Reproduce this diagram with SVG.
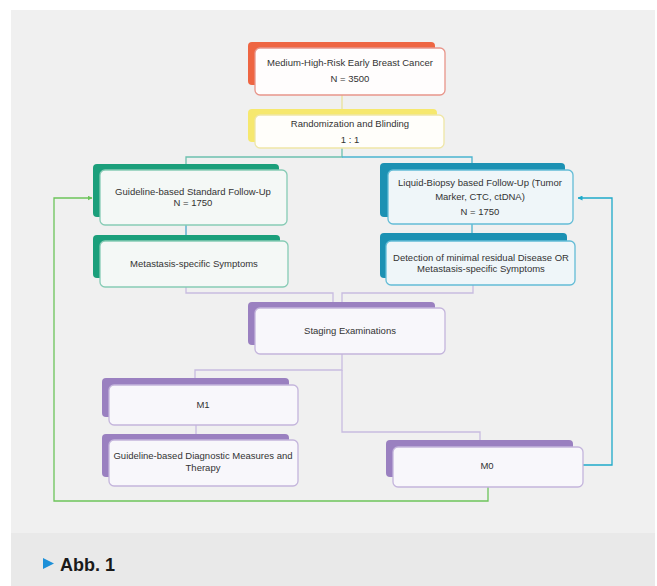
<svg xmlns="http://www.w3.org/2000/svg" width="657" height="586" viewBox="0 0 657 586">
<defs>
<style>
.t{font-family:"Liberation Sans",Arial,sans-serif;font-size:9.5px;fill:#333;text-anchor:middle}
.front{stroke-width:1.3}
.c{fill:none;stroke-width:1.3}
</style>
<marker id="ag" viewBox="0 0 10 10" refX="9" refY="5" markerWidth="5" markerHeight="5" orient="auto" markerUnits="userSpaceOnUse"><path d="M0,0 L10,5 L0,10 z" fill="#6cc45a"/></marker>
<marker id="ab" viewBox="0 0 10 10" refX="9" refY="5" markerWidth="5" markerHeight="5" orient="auto" markerUnits="userSpaceOnUse"><path d="M0,0 L10,5 L0,10 z" fill="#1ea9c9"/></marker>
</defs>
<rect width="657" height="586" fill="#ffffff"/>
<rect x="11" y="10" width="644" height="523" fill="#f0f0f0"/>
<rect x="11" y="533" width="644" height="53" fill="#e9e9e9"/>

<g id="connectors">
<path class="c" stroke="#e9e29a" d="M342,95 V115"/>
<path class="c" stroke="#6cc0ae" d="M342,148 V157 H186 V164"/>
<path class="c" stroke="#4ab4d0" d="M342,157 H472 V163"/>
<path class="c" stroke="#4aa8cc" d="M186,225 V235"/>
<path class="c" stroke="#4ab4d0" d="M472,224 V233"/>
<path class="c" stroke="#c8bce0" d="M186,287 V293 H333 V302"/>
<path class="c" stroke="#c8bce0" d="M473,285 V293 H342 V302"/>
<path class="c" stroke="#c8bce0" d="M342,354 V370 H195 V378"/>
<path class="c" stroke="#c8bce0" d="M342,370 V432 H480 V440"/>
<path class="c" stroke="#c8bce0" d="M196,425 V434"/>
<path class="c" stroke="#6cc45a" stroke-width="1.6" marker-end="url(#ag)" d="M488,487 V501 H54 V198 H92"/>
<path class="c" stroke="#1ea9c9" stroke-width="1.6" marker-end="url(#ab)" d="M583,465 H612 V198 H578"/>
</g>

<g id="node-cancer">
<rect x="248" y="42" width="187" height="43" rx="4" fill="#ee6542"/>
<rect class="front" x="255" y="48" width="190" height="47" rx="5" fill="#fffdfd" stroke="#e8958a"/>
<text class="t" x="350" y="66">Medium-High-Risk Early Breast Cancer</text>
<text class="t" x="350" y="82">N = 3500</text>
</g>

<g id="node-random">
<rect x="248" y="109" width="189" height="33" rx="4" fill="#f6e86e"/>
<rect class="front" x="255" y="115" width="189" height="33" rx="5" fill="#fffefa" stroke="#efe6a6"/>
<text class="t" x="350" y="127">Randomization and Blinding</text>
<text class="t" x="350" y="143">1 : 1</text>
</g>

<g id="node-standard">
<rect x="93" y="164" width="186" height="53" rx="4" fill="#1b9f7b"/>
<rect class="front" x="100" y="170" width="187" height="55" rx="5" fill="#f4f8f6" stroke="#86cbb5"/>
<text class="t" x="193" y="195">Guideline-based Standard Follow-Up</text>
<text class="t" x="193" y="206">N = 1750</text>
</g>

<g id="node-symptoms">
<rect x="93" y="235" width="187" height="43" rx="4" fill="#1b9f7b"/>
<rect class="front" x="100" y="241" width="188" height="46" rx="5" fill="#f4f8f6" stroke="#86cbb5"/>
<text class="t" x="194" y="267">Metastasis-specific Symptoms</text>
</g>

<g id="node-liquid">
<rect x="380" y="163" width="185" height="54" rx="4" fill="#1c91b3"/>
<rect class="front" x="388" y="170" width="185" height="54" rx="5" fill="#eff6f9" stroke="#63bcd6"/>
<text class="t" x="480" y="186">Liquid-Biopsy based Follow-Up (Tumor</text>
<text class="t" x="480" y="200">Marker, CTC, ctDNA)</text>
<text class="t" x="480" y="215">N = 1750</text>
</g>

<g id="node-detection">
<rect x="380" y="233" width="187" height="45" rx="4" fill="#1c91b3"/>
<rect class="front" x="386" y="241" width="189" height="44" rx="5" fill="#eff6f9" stroke="#63bcd6"/>
<text class="t" x="481" y="261">Detection of minimal residual Disease OR</text>
<text class="t" x="481" y="272">Metastasis-specific Symptoms</text>
</g>

<g id="node-staging">
<rect x="248" y="302" width="187" height="43" rx="4" fill="#9a80c0"/>
<rect class="front" x="255" y="308" width="190" height="46" rx="5" fill="#f8f7fb" stroke="#c4b5dc"/>
<text class="t" x="350" y="334">Staging Examinations</text>
</g>

<g id="node-m1">
<rect x="102" y="378" width="187" height="39" rx="4" fill="#9a80c0"/>
<rect class="front" x="109" y="385" width="189" height="40" rx="5" fill="#f8f7fb" stroke="#c4b5dc"/>
<text class="t" x="203" y="408">M1</text>
</g>

<g id="node-therapy">
<rect x="102" y="434" width="187" height="43" rx="4" fill="#9a80c0"/>
<rect class="front" x="109" y="440" width="189" height="46" rx="5" fill="#f8f7fb" stroke="#c4b5dc"/>
<text class="t" x="203" y="459">Guideline-based Diagnostic Measures and</text>
<text class="t" x="203" y="471">Therapy</text>
</g>

<g id="node-m0">
<rect x="386" y="440" width="187" height="37" rx="4" fill="#9a80c0"/>
<rect class="front" x="393" y="447" width="190" height="40" rx="5" fill="#f8f7fb" stroke="#c4b5dc"/>
<text class="t" x="487" y="469">M0</text>
</g>

<g id="caption">
<path d="M43,558 L54,563.5 L43,569 z" fill="#1e90d8"/>
<text x="60" y="571" style="font-family:'Liberation Sans',Arial,sans-serif;font-size:18px;font-weight:bold;fill:#1a1a1a">Abb. 1</text>
</g>
</svg>
